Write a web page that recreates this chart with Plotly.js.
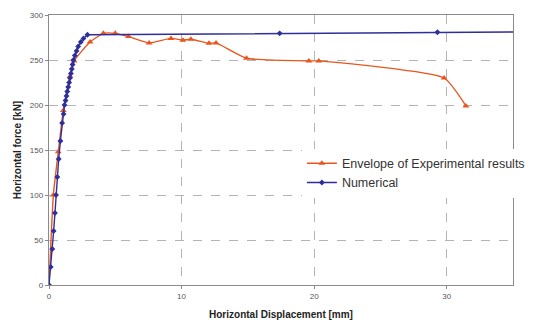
<!DOCTYPE html>
<html>
<head>
<meta charset="utf-8">
<script src="https://cdn.plot.ly/plotly-3.0.1.min.js"></script>
<style>html,body{margin:0;padding:0;background:#fff;}#chart{width:534px;height:320px;}</style>
</head>
<body>
<div id="chart"></div>
<script>
// Envelope of experimental results
const expX = [0, 0.33, 0.7, 1.08, 1.59, 1.9, 3.1, 4.1, 5.0, 6.0, 7.55, 9.2, 10.1, 10.7, 12.07, 12.6, 14.9, 19.6, 20.35, 29.8, 31.45];
const expY = [0, 100, 148, 194, 232, 249, 270, 279.6, 279.6, 276, 269, 274, 272, 273, 268.5, 269, 252, 249, 249, 230, 199];
// Numerical
const numX = [0, 0.13, 0.25, 0.35, 0.45, 0.53, 0.63, 0.73, 0.86, 0.99, 1.1, 1.17, 1.25, 1.32, 1.38, 1.45, 1.52, 1.58, 1.65, 1.72, 1.78, 1.84, 1.95, 2.08, 2.2, 2.4, 2.6, 2.9, 17.4, 29.3, 36];
const numY = [0, 20, 40, 60, 80, 100, 120, 140, 160, 180, 190, 200, 205, 210, 215, 220, 225, 230, 235, 240, 245, 250, 255, 260, 265, 270, 274, 278, 279.6, 280.8, 281.2];
const xTicks = [0, 10, 20, 30];
const yTicks = [0, 50, 100, 150, 200, 250, 300];

const orange = '#e8561f';
const blue = '#2e2e9c';

const traces = [
  {x: expX, y: expY, name: 'Envelope of Experimental results', type: 'scatter', mode: 'lines+markers',
   line: {color: orange, width: 1.4, shape: 'spline', smoothing: 0.5},
   marker: {symbol: 'triangle-up', size: 6, color: orange}},
  {x: numX, y: numY, name: 'Numerical', type: 'scatter', mode: 'lines+markers',
   line: {color: blue, width: 1.4},
   marker: {symbol: 'diamond', size: 4.5, color: blue}}
];

const axisCommon = {
  showgrid: true, gridcolor: '#b4b4b4', griddash: 'dash', gridwidth: 1,
  showline: true, linecolor: '#8a8a8a', linewidth: 1.2, mirror: true,
  ticks: 'outside', ticklen: 3, tickcolor: '#8a8a8a',
  zeroline: false,
  tickfont: {family: 'Liberation Sans, Arial, sans-serif', size: 8, color: '#555'}
};

const layout = {
  width: 534, height: 320,
  margin: {l: 49, r: 21, t: 15, b: 35, autoexpand: false},
  paper_bgcolor: '#fff', plot_bgcolor: '#fff',
  showlegend: true,
  legend: {x: 0.545, y: 0.505, xanchor: 'left', yanchor: 'top', bgcolor: '#fff',
           font: {family: 'Liberation Sans, Arial, sans-serif', size: 12.5, color: '#333'},
           itemwidth: 30, tracegroupgap: 0},
  xaxis: Object.assign({}, axisCommon, {
    range: [0, 35], tickvals: xTicks, ticktext: xTicks.map(String),
    title: {text: 'Horizontal Displacement [mm]', standoff: 11,
            font: {family: 'Liberation Sans, Arial, sans-serif', size: 10, color: '#222', weight: 'bold'}}
  }),
  yaxis: Object.assign({}, axisCommon, {
    range: [0, 300], tickvals: yTicks, ticktext: yTicks.map(String),
    title: {text: 'Horizontal force [kN]', standoff: 6,
            font: {family: 'Liberation Sans, Arial, sans-serif', size: 10, color: '#222', weight: 'bold'}}
  })
};

Plotly.newPlot('chart', traces, layout, {displayModeBar: false, staticPlot: true});
</script>
</body>
</html>
